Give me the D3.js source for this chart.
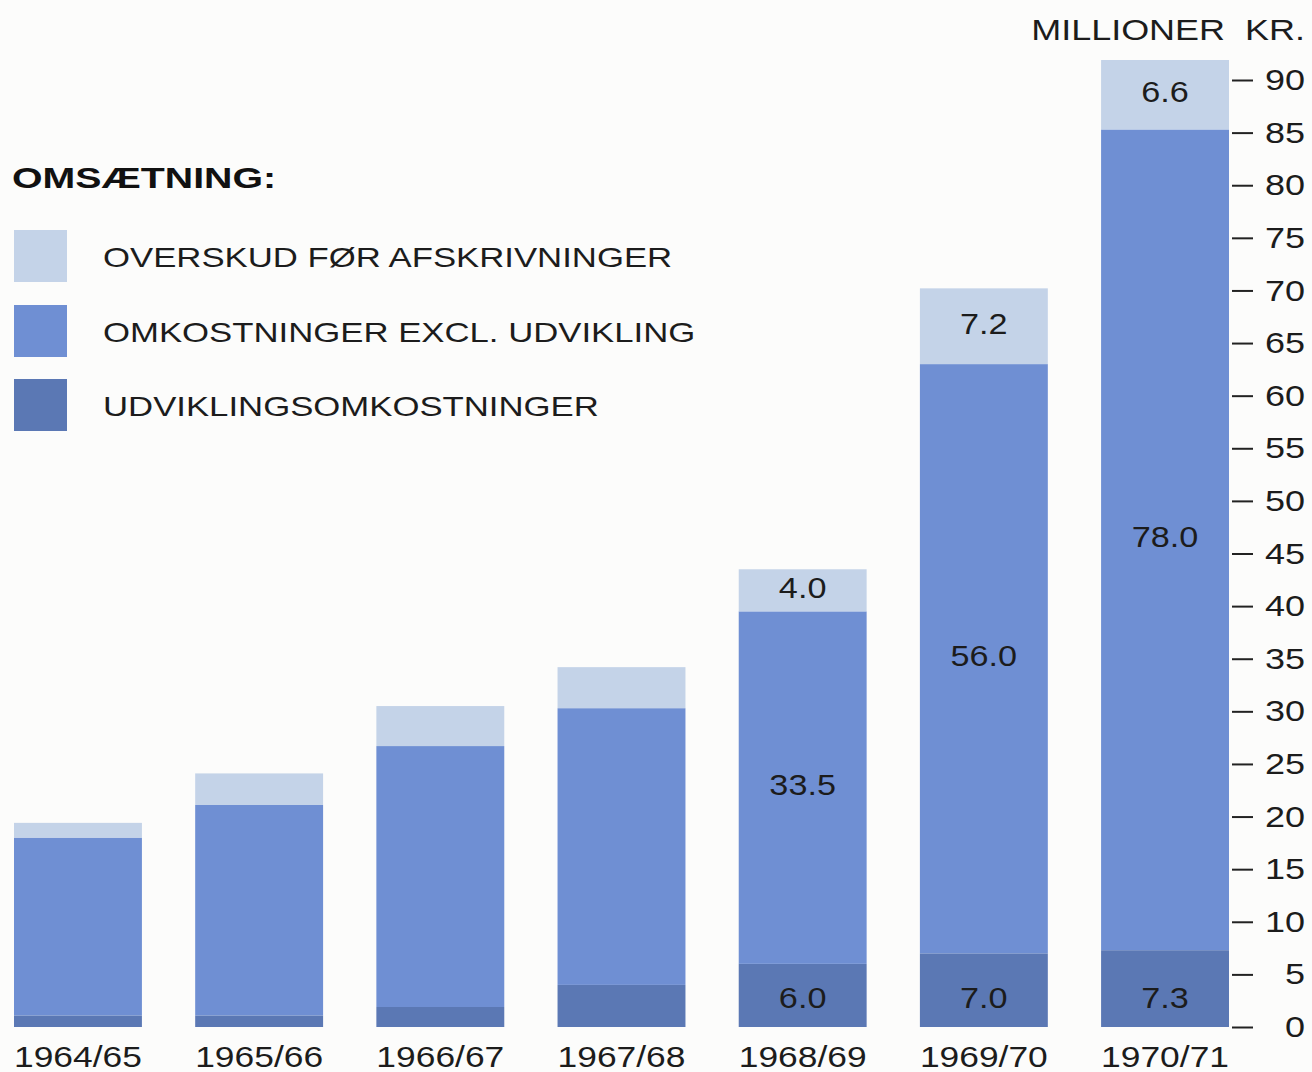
<!DOCTYPE html>
<html>
<head>
<meta charset="utf-8">
<script src="https://cdn.jsdelivr.net/npm/d3@7"></script>
<style>
  body { margin: 0; background: #fcfcfb; }
  svg { display: block; font-family: "Liberation Sans", Arial, sans-serif; }
</style>
</head>
<body>
<div id="chart"></div>
<script>
// values (mill. kr.)
var years = ['1964/65', '1965/66', '1966/67', '1967/68', '1968/69', '1969/70', '1970/71'];
var udvikling = [1.1, 1.1, 1.9, 4.0, 6.0, 7.0, 7.3];
var omkostninger = [16.9, 20.0, 24.8, 26.3, 33.5, 56.0, 78.0];
var overskud = [1.4, 3.0, 3.8, 3.9, 4.0, 7.2, 6.6];
var showLabel = [false, false, false, false, true, true, true];

var seriesKeys = ['udvikling', 'omkostninger', 'overskud'];
var legendNames = ['OVERSKUD FØR AFSKRIVNINGER', 'OMKOSTNINGER EXCL. UDVIKLING', 'UDVIKLINGSOMKOSTNINGER'];
var yTicks = d3.range(0, 95, 5);

var colors = {
    udvikling: '#5b78b4',
    omkostninger: '#6f8fd3',
    overskud: '#c4d3e8'
};

var width = 1312;
var height = 1072;

// the original typeface is a wide grotesk, so stretch text horizontally
function widen(sel, factor) {
    sel.each(function() {
        var len = this.getComputedTextLength();
        d3.select(this)
            .attr('textLength', len * factor)
            .attr('lengthAdjust', 'spacingAndGlyphs');
    });
}

var svg = d3.select('#chart')
    .append('svg')
    .attr('width', width)
    .attr('height', height);

var rows = years.map(function(y, i) {
    return { year: y, udvikling: udvikling[i], omkostninger: omkostninger[i], overskud: overskud[i], label: showLabel[i] };
});

var stacked = d3.stack().keys(seriesKeys)(rows);

var x = d3.scaleBand()
    .domain(years)
    .range([14, 1229])
    .paddingInner(0.294)
    .paddingOuter(0);

var y = d3.scaleLinear()
    .domain([0, 90])
    .range([1027, 80]);

// bars
var layers = svg.append('g')
    .selectAll('g')
    .data(stacked)
    .enter()
    .append('g')
    .attr('fill', function(d) { return colors[d.key]; });

layers.selectAll('rect')
    .data(function(d) { return d; })
    .enter()
    .append('rect')
    .attr('x', function(d) { return x(d.data.year); })
    .attr('y', function(d) { return y(d[1]); })
    .attr('width', x.bandwidth())
    .attr('height', function(d) { return y(d[0]) - y(d[1]); });

// value labels inside the segments (bottom ones sit at a fixed height)
layers.each(function(layer) {
    var t = d3.select(this).selectAll('text')
        .data(layer.filter(function(d) { return d.data.label; }))
        .enter()
        .append('text')
        .attr('x', function(d) { return x(d.data.year) + x.bandwidth() / 2; })
        .attr('y', function(d) {
            if (layer.key == 'udvikling') return y(0) - 29;
            return (y(d[0]) + y(d[1])) / 2 - 3;
        })
        .attr('dy', '0.36em')
        .attr('text-anchor', 'middle')
        .attr('font-size', 29)
        .attr('fill', '#1c1c1c')
        .text(function(d) { return d.data[layer.key].toFixed(1); });
    widen(t, 1.18);
});

// y axis on the right
var yAxis = d3.axisRight(y)
    .tickValues(yTicks)
    .tickSize(21)
    .tickFormat(d3.format('d'));

var axisG = svg.append('g')
    .attr('transform', 'translate(1232,0)')
    .call(yAxis);
axisG.select('.domain').remove();
axisG.selectAll('line').attr('stroke', '#222').attr('stroke-width', 2);
var tickText = axisG.selectAll('text')
    .attr('x', 73)
    .attr('text-anchor', 'end')
    .attr('font-size', 30)
    .attr('font-family', '"Liberation Sans", Arial, sans-serif')
    .attr('fill', '#1c1c1c');
widen(tickText, 1.2);

var unit = svg.append('text')
    .attr('x', 1305)
    .attr('y', 40)
    .attr('text-anchor', 'end')
    .attr('font-size', 29)
    .attr('fill', '#1c1c1c')
    .attr('xml:space', 'preserve')
    .text('MILLIONER  KR.');
widen(unit, 1.24);

// x labels
var xLabels = svg.append('g')
    .selectAll('text')
    .data(years)
    .enter()
    .append('text')
    .attr('x', function(d) { return x(d) + x.bandwidth() / 2; })
    .attr('y', 1067)
    .attr('text-anchor', 'middle')
    .attr('font-size', 29)
    .attr('fill', '#1c1c1c')
    .text(function(d) { return d; });
widen(xLabels, 1.22);

// legend
var heading = svg.append('text')
    .attr('x', 12)
    .attr('y', 188)
    .attr('font-size', 30)
    .attr('font-weight', 'bold')
    .attr('fill', '#111')
    .text('OMSÆTNING:');
widen(heading, 1.31);

var legendKeys = ['overskud', 'omkostninger', 'udvikling'];
var legend = svg.append('g')
    .selectAll('g')
    .data(legendKeys)
    .enter()
    .append('g')
    .attr('transform', function(d, i) { return 'translate(14,' + [230, 305, 379][i] + ')'; });

legend.append('rect')
    .attr('width', 53)
    .attr('height', 52)
    .attr('fill', function(d) { return colors[d]; });

var legendText = legend.append('text')
    .attr('x', 89)
    .attr('y', 37)
    .attr('font-size', 28)
    .attr('fill', '#1c1c1c')
    .text(function(d, i) { return legendNames[i]; });
widen(legendText, 1.24);
</script>
</body>
</html>
